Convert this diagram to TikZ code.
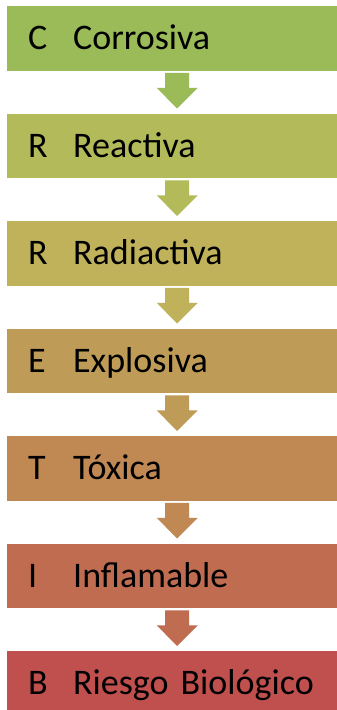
\documentclass[tikz,border=0pt]{standalone}
\usepackage{fontspec}
\setmainfont{Carlito}
\usetikzlibrary{calc}
\definecolor{c1}{RGB}{155,187,89}
\definecolor{c2}{RGB}{178,186,90}
\definecolor{c3}{RGB}{191,178,90}
\definecolor{c4}{RGB}{190,155,86}
\definecolor{c5}{RGB}{192,137,84}
\definecolor{c6}{RGB}{192,108,80}
\definecolor{c7}{RGB}{192,80,77}
\newcommand\flowarr[3]{%
  \fill[#3] ($(#1.south)+(-12,-2)$) -- ($(#1.south)+(12,-2)$) -- ($(#1.south)+(12,-17)$)
    -- ($(#1.south)+(20.5,-17)$) -- ($(#2.north)+(0,5)$) -- ($(#1.south)+(-20.5,-17)$)
    -- ($(#1.south)+(-12,-17)$) -- cycle;}
\begin{document}
\begin{tikzpicture}[x=1pt,y=1pt,
  stepbox/.style={rectangle, anchor=north west, minimum width=340pt, minimum height=64.5pt,
    inner xsep=21pt, inner ysep=0pt, text width=298pt, align=left,
    text height=23pt, text depth=0pt, font=\fontsize{36}{42}\selectfont, fill=#1}]
\useasboundingbox (0,0) rectangle (337,-710);
\clip (0,0) rectangle (337,-710);
\node[stepbox=c1] (b1) at (7,-6) {\makebox[45pt][l]{C}Corrosiva};
\node[stepbox=c2] (b2) at (7,-113.5) {\makebox[45pt][l]{R}Reactiva};
\node[stepbox=c3] (b3) at (7,-221) {\makebox[45pt][l]{R}Radiactiva};
\node[stepbox=c4] (b4) at (7,-328.5) {\makebox[45pt][l]{E}Explosiva};
\node[stepbox=c5] (b5) at (7,-436) {\makebox[45pt][l]{T}Tóxica};
\node[stepbox=c6] (b6) at (7,-543.5) {\makebox[45pt][l]{I}Inflamable};
\node[stepbox=c7] (b7) at (7,-651) {\makebox[45pt][l]{B}Riesgo Biológico};
\flowarr{b1}{b2}{c1}
\flowarr{b2}{b3}{c2}
\flowarr{b3}{b4}{c3}
\flowarr{b4}{b5}{c4}
\flowarr{b5}{b6}{c5}
\flowarr{b6}{b7}{c6}
\end{tikzpicture}
\end{document}
